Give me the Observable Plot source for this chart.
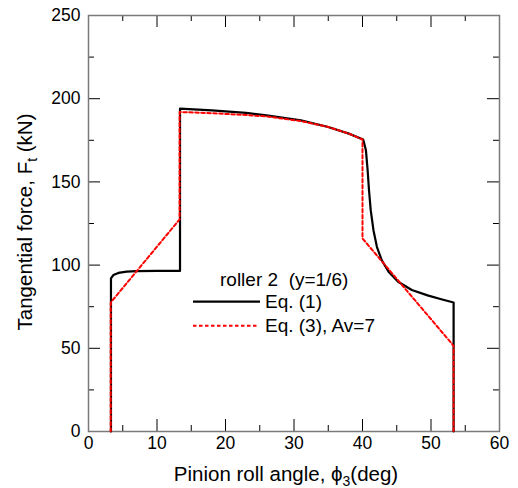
<!DOCTYPE html>
<html><head><meta charset="utf-8">
<script src="https://cdn.jsdelivr.net/npm/d3@7"></script>
<script src="https://cdn.jsdelivr.net/npm/@observablehq/plot@0.6"></script>
<style>
body{margin:0;background:#fff}
#chart{position:relative;width:518px;height:488px}
</style>
</head><body><div id="chart"></div>
<script>
// Eq. (1) curve (black)
const eq1Angle = [3.28, 3.28, 3.63, 4.36, 5.57, 7.0, 10, 13.36, 13.36, 18, 23, 26, 31, 35, 38, 40.1, 40.5, 40.75, 40.95, 41.2, 41.6, 42.1, 42.8, 43.8, 45.2, 47.2, 49.5, 51.5, 53.3, 53.3];
const eq1Force = [0, 92, 94, 95.3, 96.1, 96.4, 96.5, 96.5, 194, 193, 191.5, 190, 187, 183, 179, 175.5, 169, 157, 145, 133, 121, 111, 103, 96, 90, 85, 81.8, 79.5, 77.5, 0];
// Eq. (3), Av=7 curve (red dashed)
const eq3Angle = [3.24, 3.24, 13.3, 13.3, 18, 23, 26, 31, 35, 38, 40.0, 40.0, 53.3, 53.3];
const eq3Force = [0, 77.5, 127.5, 192, 191.3, 190.2, 189.3, 186.6, 183, 179, 175.5, 116, 51.5, 0];

const xTicks = [0, 10, 20, 30, 40, 50, 60];
const xMinorTicks = [5, 15, 25, 35, 45, 55];
const yTicks = [0, 50, 100, 150, 200, 250];
const yMinorTicks = [25, 75, 125, 175, 225];

const legendTitle = "roller 2\u00a0\u00a0(y=1/6)";
const seriesNames = ["Eq. (1)", "Eq. (3), Av=7"];
const seriesColors = ["#000000", "#ff0000"];

const eq1 = eq1Angle.map((x, i) => ({x, y: eq1Force[i]}));
const eq3 = eq3Angle.map((x, i) => ({x, y: eq3Force[i]}));

const W = 518, H = 488, mL = 88, mR = 19, mT = 15, mB = 57;
const pw = W - mL - mR, ph = H - mT - mB;
const font = "'Liberation Sans', Arial, Helvetica, sans-serif";

const svg = Plot.plot({
  width: W, height: H,
  marginLeft: mL, marginRight: mR, marginTop: mT, marginBottom: mB,
  x: {domain: [0, 60]},
  y: {domain: [0, 250]},
  style: {fontFamily: font, fontSize: "17.5px", color: "#000", background: "#fff", overflow: "visible"},
  marks: [
    Plot.tickX(xTicks, {x: d => d, insetTop: ph - 12, stroke: "#000"}),
    Plot.tickX(xTicks, {x: d => d, insetBottom: ph - 12, stroke: "#000"}),
    Plot.tickX(xMinorTicks, {x: d => d, insetTop: ph - 6, stroke: "#000"}),
    Plot.tickX(xMinorTicks, {x: d => d, insetBottom: ph - 6, stroke: "#000"}),
    Plot.tickY(yTicks, {y: d => d, insetRight: pw - 12, stroke: "#000"}),
    Plot.tickY(yTicks, {y: d => d, insetLeft: pw - 12, stroke: "#000"}),
    Plot.tickY(yMinorTicks, {y: d => d, insetRight: pw - 6, stroke: "#000"}),
    Plot.tickY(yMinorTicks, {y: d => d, insetLeft: pw - 6, stroke: "#000"}),
    Plot.frame({stroke: "#7a7a7a", strokeWidth: 1.5}),
    Plot.axisX({ticks: xTicks, tickSize: 0, tickPadding: 5, label: null, fontSize: 17.5}),
    Plot.axisY({ticks: yTicks, tickSize: 0, tickPadding: 8, label: null, fontSize: 17.5}),
    Plot.line(eq1, {x: "x", y: "y", stroke: seriesColors[0], strokeWidth: 2.2, curve: "linear"}),
    Plot.line(eq3, {x: "x", y: "y", stroke: seriesColors[1], strokeWidth: 2, strokeDasharray: "3.5,2.5", curve: "linear"})
  ]
});

const s = d3.select(svg);
// Axis titles
const xt = s.append("text").attr("x", 286).attr("y", 481).attr("text-anchor", "middle")
  .attr("font-family", font).attr("font-size", 20.5).attr("fill", "#000");
xt.append("tspan").text("Pinion roll angle, \u03d5");
xt.append("tspan").attr("font-size", 14).attr("dy", 5).text("3");
xt.append("tspan").attr("dy", -5).text("(deg)");

const yt = s.append("text").attr("transform", "translate(32,222) rotate(-90)").attr("text-anchor", "middle")
  .attr("font-family", font).attr("font-size", 20.5).attr("fill", "#000");
yt.append("tspan").text("Tangential force, F");
yt.append("tspan").attr("font-size", 14).attr("dy", 5).text("t");
yt.append("tspan").attr("dy", -5).text(" (kN)");

// Legend
const lg = s.append("g").attr("font-family", font).attr("font-size", 19).attr("fill", "#000").attr("text-anchor", "start");
lg.append("text").attr("x", 220).attr("y", 285.5).attr("text-anchor", "start").text(legendTitle);
const rows = [301.7, 325.7];
seriesNames.forEach((name, i) => {
  lg.append("line").attr("x1", 193).attr("x2", i === 0 ? 260 : 257).attr("y1", rows[i]).attr("y2", rows[i])
    .attr("stroke", seriesColors[i]).attr("stroke-width", i === 0 ? 2.2 : 2)
    .attr("stroke-dasharray", i === 0 ? null : "3.5,2.5");
  lg.append("text").attr("x", 265).attr("y", rows[i] + 6.5).attr("text-anchor", "start").text(name);
});

document.getElementById("chart").appendChild(svg);
</script>
</body></html>
